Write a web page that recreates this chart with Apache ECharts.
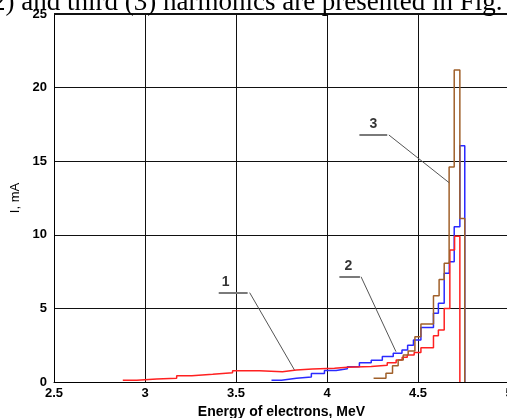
<!DOCTYPE html>
<html>
<head>
<meta charset="utf-8">
<script src="https://cdn.jsdelivr.net/npm/echarts@6/dist/echarts.min.js"></script>
<style>
html,body{margin:0;padding:0;background:#fff;overflow:hidden;}
#chart{width:507px;height:418px;}
</style>
</head>
<body>
<div id="chart"></div>
<script>
// Curve 1 (red)
const energy1 = [2.878, 2.955, 3.065, 3.174, 3.257, 3.372, 3.481, 3.629, 3.755, 3.832, 3.92, 4.041, 4.112, 4.243, 4.331, 4.38, 4.413, 4.441, 4.479, 4.516, 4.585, 4.612, 4.644, 4.675, 4.701, 4.73];
const current1 = [0.12, 0.2, 0.25, 0.43, 0.52, 0.63, 0.77, 0.70, 0.82, 0.88, 0.93, 1.0, 1.05, 1.13, 1.3, 1.5, 1.68, 1.83, 2.0, 2.33, 3.15, 3.53, 5.0, 8.97, 9.9, 0];
// Curve 2 (blue)
const energy2 = [3.695, 3.75, 3.832, 3.914, 3.986, 4.05, 4.112, 4.178, 4.243, 4.304, 4.364, 4.412, 4.443, 4.475, 4.516, 4.585, 4.612, 4.644, 4.672, 4.699, 4.73, 4.757];
const current2 = [0.12, 0.25, 0.34, 0.57, 0.78, 0.9, 1.04, 1.3, 1.47, 1.74, 1.96, 2.17, 2.5, 2.85, 3.7, 4.67, 5.35, 7.38, 8.17, 10.55, 16.05, 0];
// Curve 3 (brown)
const energy3 = [4.256, 4.324, 4.36, 4.391, 4.419, 4.446, 4.483, 4.516, 4.585, 4.616, 4.644, 4.671, 4.699, 4.73, 4.757];
const current3 = [0.25, 0.59, 1.1, 1.49, 1.83, 2.1, 3.08, 3.94, 5.86, 6.97, 8.06, 14.6, 21.2, 11.1, 0];

// Curve labels and leader lines (data coordinates)
const curveLabels = ['1', '2', '3'];
const labelPos = [[3.443, 6.8], [4.118, 7.9], [4.255, 17.5]];
const leaderShelf = [[[3.405, 6.07], [3.564, 6.07]], [[4.068, 7.15], [4.181, 7.15]], [[4.178, 16.78], [4.331, 16.78]]];
const leaderSlant = [[[3.575, 6.07], [3.821, 0.82]], [[4.187, 7.15], [4.379, 2.06]], [[4.34, 16.78], [4.671, 13.54]]];

const xTicks = [2.5, 3, 3.5, 4, 4.5, 5];
const yTicks = [0, 5, 10, 15, 20, 25];

const zip = (xs, ys) => xs.map((x, i) => [x, ys[i]]);

const chart = echarts.init(document.getElementById('chart'), null, {renderer: 'canvas'});
const axisFont = {fontFamily: 'Liberation Sans, Arial, sans-serif', fontSize: 13, color: '#000'};

chart.setOption({
  animation: false,
  backgroundColor: '#fff',
  grid: {left: 54, right: -2, top: 14, bottom: 36, show: false, containLabel: false, outerBoundsMode: 'none'},
  xAxis: {
    type: 'value', min: xTicks[0], max: xTicks[xTicks.length - 1], interval: 0.5,
    name: 'Energy of electrons, MeV', nameLocation: 'middle', nameGap: 22,
    nameTextStyle: Object.assign({}, axisFont, {fontSize: 14, fontWeight: 'bold'}),
    axisLine: {show: true, lineStyle: {color: '#000', width: 1}},
    axisTick: {show: false},
    axisLabel: Object.assign({}, axisFont, {margin: 5, fontWeight: 'bold', formatter: v => String(v)}),
    splitLine: {show: true, lineStyle: {color: '#111', width: 1}}
  },
  yAxis: {
    type: 'value', min: yTicks[0], max: yTicks[yTicks.length - 1], interval: 5,
    name: 'I, mA', nameLocation: 'middle', nameGap: 29,
    nameTextStyle: Object.assign({}, axisFont, {fontSize: 13}),
    axisLine: {show: true, lineStyle: {color: '#000', width: 1}},
    axisTick: {show: false},
    axisLabel: Object.assign({}, axisFont, {margin: 7, fontWeight: 'bold'}),
    splitLine: {show: true, lineStyle: {color: '#111', width: 1}}
  },
  graphic: [
    {type: 'text', left: -17, top: -11, z: 100,
     style: {text: '(2) and third (3) harmonics are presented in Fig.', fill: '#000',
             font: '27px "Liberation Serif", "Times New Roman", serif'}},
    {type: 'rect', shape: {x: 54, y: 13, width: 460, height: 2}, style: {fill: '#111'}, z: 50}
  ],
  series: [
    {type: 'line', name: '1', step: 'end', data: zip(energy1, current1), showSymbol: false, symbol: 'none',
     lineStyle: {color: '#ff2020', width: 1.5}, z: 4},
    {type: 'line', name: '2', step: 'end', data: zip(energy2, current2), showSymbol: false, symbol: 'none',
     lineStyle: {color: '#2a2aff', width: 1.5}, z: 3},
    {type: 'line', name: '3', step: 'end', data: zip(energy3, current3), showSymbol: false, symbol: 'none',
     lineStyle: {color: '#a0602a', width: 1.5}, z: 5},
    {type: 'lines', coordinateSystem: 'cartesian2d', z: 6, silent: true,
     data: leaderShelf.map(c => ({coords: c})),
     lineStyle: {color: '#7a7a7a', width: 2, opacity: 1}},
    {type: 'lines', coordinateSystem: 'cartesian2d', z: 6, silent: true,
     data: leaderSlant.map(c => ({coords: c})),
     lineStyle: {color: '#555', width: 1, opacity: 1}},
    {type: 'scatter', z: 7, symbolSize: 0, silent: true,
     data: labelPos.map((p, i) => ({value: p, name: curveLabels[i]})),
     label: {show: true, position: 'inside', formatter: p => p.name,
             fontFamily: 'Liberation Sans, Arial, sans-serif', fontSize: 14, fontWeight: 'bold', color: '#000'}}
  ]
});
</script>
</body>
</html>
